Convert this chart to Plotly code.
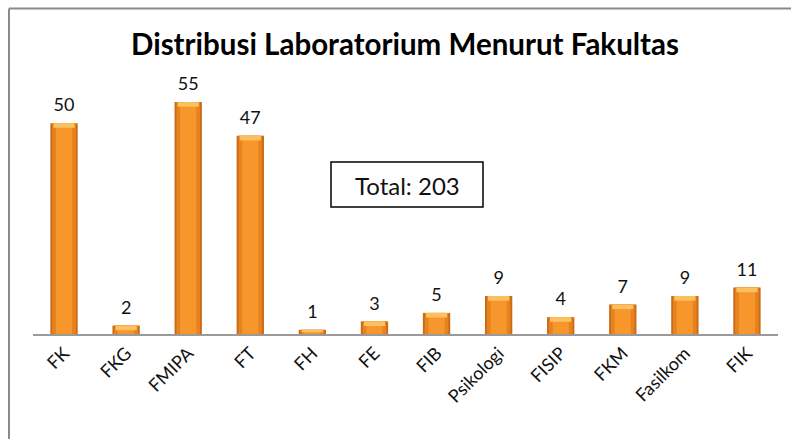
import plotly.graph_objects as go

categories = ["FK", "FKG", "FMIPA", "FT", "FH", "FE", "FIB", "Psikologi", "FISIP", "FKM", "Fasilkom", "FIK"]
values = [50, 2, 55, 47, 1, 3, 5, 9, 4, 7, 9, 11]
total_label = "Total: 203"
title_text = "Distribusi Laboratorium Menurut Fakultas"

W, H = 791, 439
L, R, T, B = 33, 13, 81, 105
pw = W - L - R
ph = H - T - B

def px_x(x):
    return (x - L) / pw

def px_y(y):
    return (H - B - y) / ph

fig = go.Figure()
# outer dark edge of the bar
fig.add_trace(go.Bar(x=categories, y=values, width=0.44,
                     marker=dict(color="#C96A16", line=dict(width=0)), hoverinfo="skip"))
# mid tone
fig.add_trace(go.Bar(x=categories, y=values, width=0.38,
                     marker=dict(color="#E8821F", line=dict(width=0)), hoverinfo="skip"))
# bright center
fig.add_trace(go.Bar(x=categories, y=values, width=0.26,
                     marker=dict(color="#F7962A", line=dict(width=0)), hoverinfo="skip"))
# top bevel highlight
cap = [min(1.1, v * 0.6) for v in values]
fig.add_trace(go.Bar(x=categories, y=cap, base=[v - c for v, c in zip(values, cap)], width=0.34,
                     marker=dict(color="#FBC160", line=dict(width=0)), hoverinfo="skip"))
# value labels
fig.add_trace(go.Scatter(x=categories, y=values, mode="markers+text",
                         marker=dict(size=10, opacity=0),
                         text=[str(v) for v in values], textposition="top center",
                         textfont=dict(family="Lato", size=18, color="#111"),
                         cliponaxis=False, hoverinfo="skip"))

fig.update_layout(
    width=W, height=H,
    margin=dict(l=L, r=R, t=T, b=B, autoexpand=False),
    barmode="overlay",
    showlegend=False,
    plot_bgcolor="white", paper_bgcolor="white",
    title=dict(text="<b>" + title_text + "</b>", x=px_x(405), xref="paper", xanchor="center",
               y=(H - 45) / H, yanchor="middle", yref="container",
               font=dict(family="Lato", size=29.5, color="#000")),
    xaxis=dict(tickangle=-45, tickfont=dict(family="Lato", size=18, color="#111"),
               range=[-0.5, len(categories) - 0.5], autorange=False,
               showline=True, linecolor="#9a9a9a", linewidth=1.5, ticks="", showgrid=False,
               ticklen=0, automargin=False),
    yaxis=dict(range=[0, 60], visible=False, showgrid=False, zeroline=False),
    shapes=[
        dict(type="line", xref="paper", yref="paper", x0=px_x(9), x1=px_x(9), y0=px_y(8.5), y1=px_y(H + 5),
             line=dict(color="#8a8a8a", width=2)),
        dict(type="line", xref="paper", yref="paper", x0=px_x(9), x1=px_x(W + 5), y0=px_y(8.5), y1=px_y(8.5),
             line=dict(color="#8a8a8a", width=2)),
        dict(type="rect", xref="paper", yref="paper", x0=px_x(331), x1=px_x(483), y0=px_y(207), y1=px_y(162),
             line=dict(color="#000", width=1.5), fillcolor="white"),
    ],
    annotations=[
        dict(text=total_label, xref="paper", yref="paper", x=px_x(407), y=px_y(185),
             showarrow=False, font=dict(family="Lato", size=24, color="#111"),
             xanchor="center", yanchor="middle"),
    ],
)

fig.write_html("out.html", config={"displayModeBar": False},
               post_script="document.body.style.margin='0';document.body.style.overflow='hidden';")
